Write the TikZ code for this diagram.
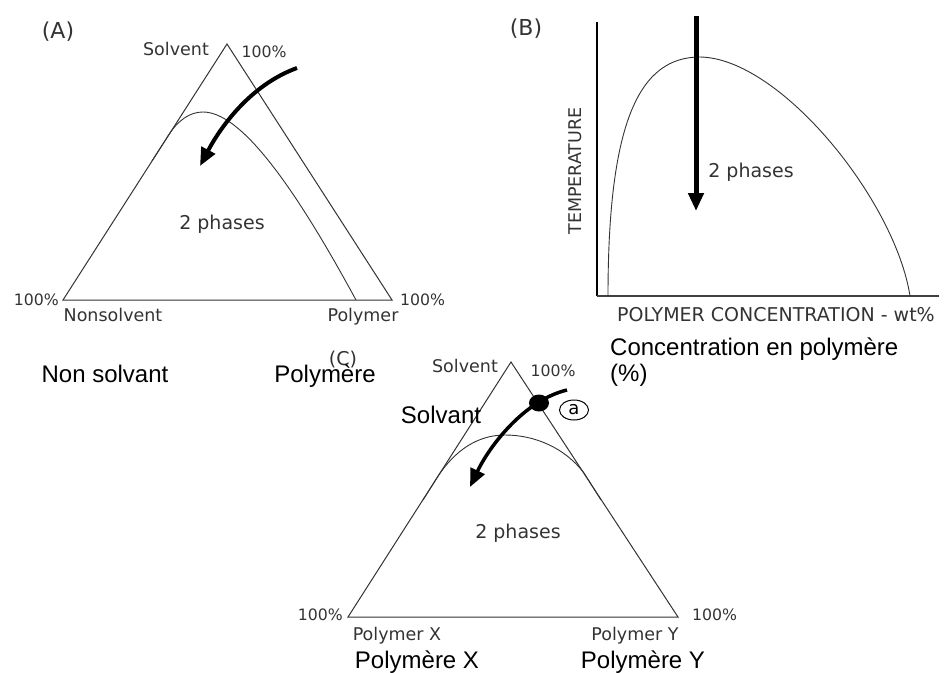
\documentclass[tikz,border=0pt]{standalone}
\usepackage{fontspec}
\setmainfont{DejaVu Sans}
\newfontfamily\arialf{Liberation Sans}
\usetikzlibrary{arrows.meta,shapes.geometric}
\begin{document}
\begin{tikzpicture}[x=1pt,y=-1pt,
  frame/.style={draw=black!80, line width=1pt, line join=miter},
  curvel/.style={draw=black!80, line width=0.9pt},
  bigarrow/.style={draw=black, line width=4pt, -{Triangle[length=18pt,width=15pt]}},
  lbl/.style={text=black!80, inner sep=0pt, anchor=base},
  fr/.style={text=black, inner sep=0pt, anchor=base, font=\arialf\fontsize{24}{27}\selectfont},
  fa/.style={font=\fontsize{15.7}{18}\selectfont},
  fb/.style={font=\fontsize{17.5}{20}\selectfont},
  fc/.style={font=\fontsize{19}{22}\selectfont},
  fd/.style={font=\fontsize{22}{25}\selectfont}]
\useasboundingbox (0,0) rectangle (947,672);

% ---------------- Panel A ----------------
\coordinate (At) at (227,44);
\coordinate (Al) at (63,300);
\coordinate (Ar) at (392,300);
\draw[frame] (Al) -- (At) -- (Ar) -- cycle;
\coordinate (Ac0) at (152,161);
\coordinate (Ac1) at (168,136);
\coordinate (Acp) at (203,112);
\coordinate (Ac2) at (356,300);
\draw[curvel] (Ac0) -- (Ac1) .. controls (178,120) and (190,112) .. (Acp)
  .. controls (240,112) and (292,182) .. (Ac2);
\coordinate (Aa0) at (297,68);
\coordinate (Aa1) at (200,166);
\draw[bigarrow] (Aa0) .. controls (250,85) and (220,128) .. (Aa1);
\node[lbl,fd] (Alab) at (58,38) {(A)};
\node[lbl,fb] (Asol) at (176,55) {Solvent};
\node[lbl,fa] (Ap1) at (264,57) {100\%};
\node[lbl,fc] (Aph) at (222,229) {2 phases};
\node[lbl,fa,anchor=base east] (Ap2) at (59,305) {100\%};
\node[lbl,fa,anchor=base west] (Ap3) at (400,305) {100\%};
\node[lbl,fb] (Anon) at (113,321) {Nonsolvent};
\node[lbl,fb] (Apol) at (363,321) {Polymer};

% ---------------- Panel B ----------------
\coordinate (Bo) at (597,296);
\coordinate (By) at (597,22);
\coordinate (Bx) at (939,296);
\draw[draw=black, line width=2pt] (By) -- (Bo);
\draw[draw=black!75, line width=1.6pt] (Bo) -- (Bx);
\coordinate (Bc0) at (608,296);
\coordinate (Bcp) at (700,57);
\coordinate (Bc1) at (910,296);
\draw[curvel] (Bc0) .. controls (608,120) and (640,57) .. (Bcp)
  .. controls (780,58) and (895,200) .. (Bc1);
\coordinate (Ba0) at (696,16);
\coordinate (Ba1) at (696,211);
\draw[bigarrow, line width=5pt] (Ba0) -- (Ba1);
\node[lbl,fd] (Blab) at (526,35) {(B)};
\node[lbl,fc] (Bph) at (751,177) {2 phases};
\node[lbl,fb,anchor=center,rotate=90] (Btemp) at (575,171) {TEMPERATURE};
\node[lbl,fc] (Bconc) at (776,321) {POLYMER CONCENTRATION - wt\%};
\node[fr,anchor=base west] (Bfr1) at (610,355) {Concentration en polymère};
\node[fr,anchor=base west] (Bfr2) at (610,381) {(\%)};

% ---------------- Panel C ----------------
\coordinate (Ct) at (511,362);
\coordinate (Cl) at (348,617);
\coordinate (Cr) at (678,617);
\draw[frame] (Cl) -- (Ct) -- (Cr) -- cycle;
\coordinate (Cc0) at (423,500);
\coordinate (Cc1) at (437.5,477);
\coordinate (Ccp) at (505,435);
\coordinate (Cc2) at (584,473);
\coordinate (Cc3) at (601,500);
\draw[curvel] (Cc0) -- (Cc1) .. controls (455,450) and (478,435) .. (Ccp)
  .. controls (535,435) and (565,448) .. (Cc2) -- (Cc3);
\coordinate (Ca0) at (567,390);
\coordinate (Ca1) at (470,487);
\draw[bigarrow, line width=3.5pt] (Ca0) .. controls (525,400) and (490,445) .. (Ca1);
\fill[black] (539,403) ellipse [x radius=10pt, y radius=8.5pt];
\node[draw=black, line width=1pt, ellipse, minimum width=29pt, minimum height=20pt, inner sep=0pt, font=\fontsize{18}{20}\selectfont] (Cca) at (574,410) {a};
\node[lbl,fc] (Clab) at (343,365) {(C)};
\node[lbl,fb] (Csol) at (465,372) {Solvent};
\node[lbl,fa] (Cp1) at (553,376) {100\%};
\node[lbl,fc] (Cph) at (518,538) {2 phases};
\node[lbl,fa,anchor=base east] (Cp2) at (343,620) {100\%};
\node[lbl,fa,anchor=base west] (Cp3) at (692,620) {100\%};
\node[lbl,fb] (Cx) at (397,640) {Polymer X};
\node[lbl,fb] (Cy) at (635,640) {Polymer Y};

% ---------------- French labels ----------------
\node[fr] (Fnon) at (105,382) {Non solvant};
\node[fr] (Fpol) at (325,382) {Polymère};
\node[fr] (Fsol) at (441,423) {Solvant};
\node[fr] (Fpx) at (417,668) {Polymère X};
\node[fr] (Fpy) at (643,668) {Polymère Y};
\end{tikzpicture}
\end{document}
